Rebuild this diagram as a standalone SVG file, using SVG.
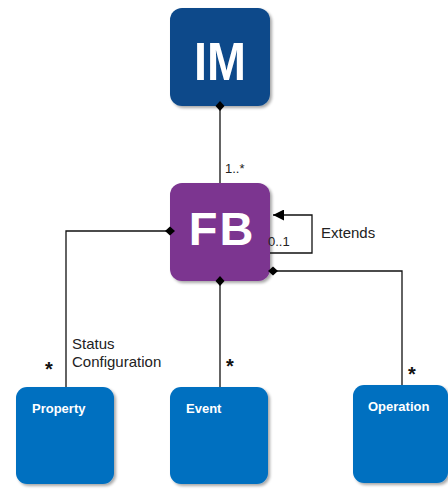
<svg xmlns="http://www.w3.org/2000/svg" width="448" height="489" viewBox="0 0 448 489">
<style>
.lbl{font-family:"Liberation Sans",Arial,sans-serif;font-size:15px;fill:#222}
.sm{font-family:"Liberation Sans",Arial,sans-serif;font-size:13px;fill:#222}
.star{font-family:"Liberation Sans",Arial,sans-serif;font-size:20px;font-weight:bold;fill:#111}
.big{font-family:"Liberation Sans",Arial,sans-serif;font-weight:bold;fill:#fff}
.nm{font-family:"Liberation Sans",Arial,sans-serif;font-weight:bold;font-size:13px;fill:#fff}
.ln{fill:none;stroke:#111;stroke-width:1.3}
.blue{fill:#0070C0}
</style>
<defs>
<filter id="sh" x="-10%" y="-10%" width="130%" height="130%">
<feGaussianBlur in="SourceAlpha" stdDeviation="1.5"/>
<feOffset dx="2" dy="2"/>
<feComponentTransfer><feFuncA type="linear" slope="0.35"/></feComponentTransfer>
<feMerge><feMergeNode/><feMergeNode in="SourceGraphic"/></feMerge>
</filter>
<marker id="dia" viewBox="-6 -6 12 12" markerWidth="12" markerHeight="12" refX="0" refY="0" markerUnits="userSpaceOnUse" orient="auto">
<path d="M-5,0 L0,-4.5 L5,0 L0,4.5 Z" fill="#000"/>
</marker>
<marker id="arr" viewBox="0 0 10 10" markerWidth="11" markerHeight="11" refX="10" refY="5" markerUnits="userSpaceOnUse" orient="auto">
<path d="M0,0 L10,5 L0,10 Z" fill="#000"/>
</marker>
</defs>
<g id="IM">
<rect x="170" y="8" width="100" height="98" rx="12" fill="#0D4A8A" filter="url(#sh)"/>
<text class="big" x="220" y="80" font-size="54" text-anchor="middle" textLength="52" lengthAdjust="spacingAndGlyphs">IM</text>
</g>
<g id="FB">
<rect x="170" y="183" width="100" height="98" rx="12" fill="#7B3590" filter="url(#sh)"/>
<text class="big" x="222" y="245" font-size="47" text-anchor="middle" letter-spacing="2">FB</text>
</g>
<g id="Property">
<rect class="blue" x="16" y="387" width="98" height="97" rx="11" filter="url(#sh)"/>
<text class="nm" x="32" y="413">Property</text>
</g>
<g id="Event">
<rect class="blue" x="170" y="387" width="98" height="97" rx="11" filter="url(#sh)"/>
<text class="nm" x="186" y="413">Event</text>
</g>
<g id="Operation">
<rect class="blue" x="353" y="385" width="95" height="98" rx="11" filter="url(#sh)"/>
<text class="nm" x="368" y="411">Operation</text>
</g>
<g id="connectors">
<path class="ln" d="M220,106 L220,183" marker-start="url(#dia)"/>
<path class="ln" d="M170,231 L66,231 L66,387" marker-start="url(#dia)"/>
<path class="ln" d="M220,281 L220,387" marker-start="url(#dia)"/>
<path class="ln" d="M273,271 L402,271 L402,385" marker-start="url(#dia)"/>
<path class="ln" d="M270,253 L312,253 L312,215 L273,215" marker-end="url(#arr)"/>
<text class="sm" x="225" y="173">1..*</text>
<text class="sm" x="268" y="246">0..1</text>
<text class="lbl" x="321" y="238">Extends</text>
<text class="lbl" x="72" y="349">Status</text>
<text class="lbl" x="72" y="367">Configuration</text>
<text class="star" x="45" y="376">*</text>
<text class="star" x="226" y="373">*</text>
<text class="star" x="408" y="381">*</text>
</g>
</svg>
